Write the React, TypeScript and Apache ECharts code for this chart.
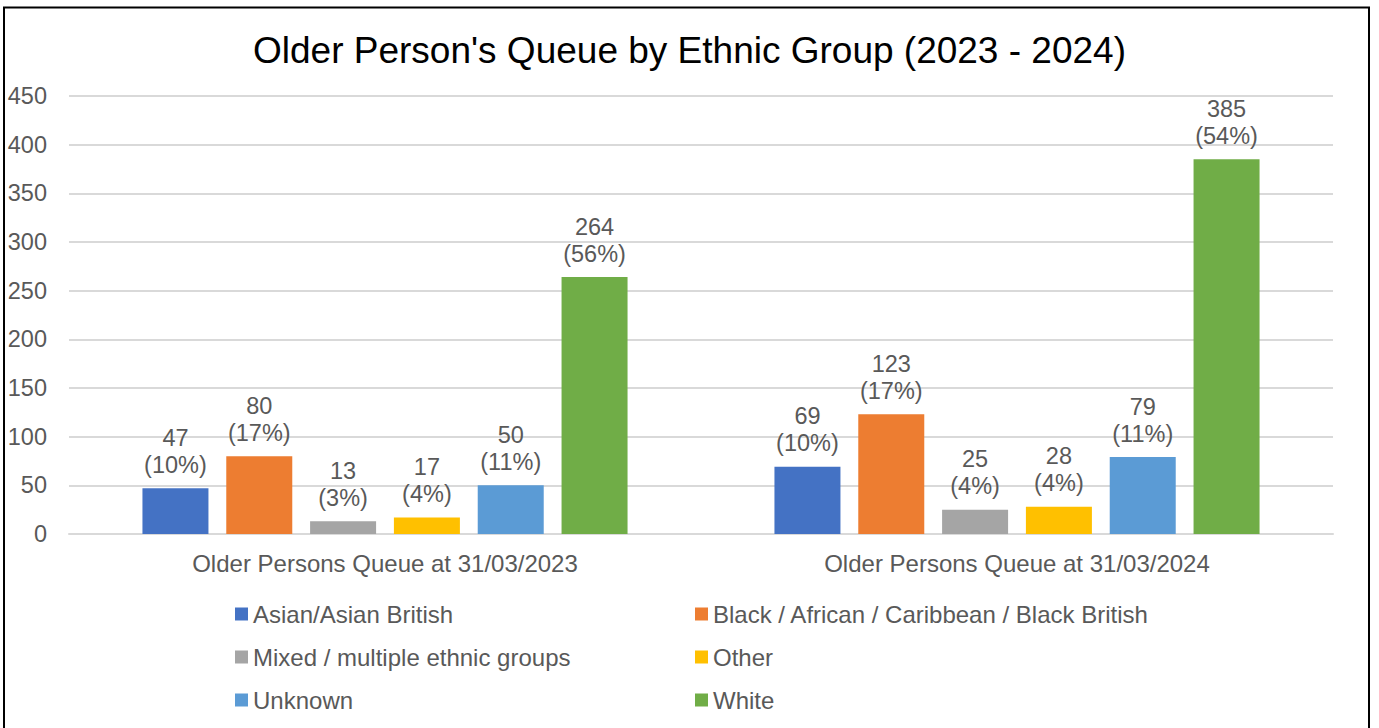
import React, { useEffect, useRef } from "react";
import * as echarts from "echarts";

const categories = ["Older Persons Queue at 31/03/2023", "Older Persons Queue at 31/03/2024"];
const seriesNames = [
  "Asian/Asian British",
  "Black / African / Caribbean / Black British",
  "Mixed / multiple ethnic groups",
  "Other",
  "Unknown",
  "White",
];
const asian = [47, 69];
const black = [80, 123];
const mixed = [13, 25];
const other = [17, 28];
const unknown = [50, 79];
const white = [264, 385];
const asianPct = [10, 10];
const blackPct = [17, 17];
const mixedPct = [3, 4];
const otherPct = [4, 4];
const unknownPct = [11, 11];
const whitePct = [56, 54];
const colors = ["#4472C4", "#ED7D31", "#A5A5A5", "#FFC000", "#5B9BD5", "#70AD47"];
const yTicks = { min: 0, max: 450, interval: 50 };

export default function App() {
  const ref = useRef<HTMLDivElement>(null);
  useEffect(() => {
    if (!ref.current) return;
    const chart = echarts.init(ref.current, null, { renderer: "svg" });
    const values = [asian, black, mixed, other, unknown, white];
    const pcts = [asianPct, blackPct, mixedPct, otherPct, unknownPct, whitePct];
    const font = "'Liberation Sans', Arial, sans-serif";
    const series = seriesNames.map((name, i) => ({
      name,
      type: "bar",
      data: values[i],
      barWidth: 66,
      barGap: "27%",
      itemStyle: { color: colors[i] },
      label: {
        show: true,
        position: "top",
        distance: 10,
        color: "#595959",
        fontSize: 23.5,
        lineHeight: 27,
        fontFamily: font,
        formatter: (p: any) => `${p.value}\n(${pcts[i][p.dataIndex]}%)`,
      },
    }));
    const legendCommon = {
      orient: "vertical",
      itemWidth: 13,
      itemHeight: 13,
      itemGap: 19,
      icon: "rect",
      padding: 0,
      textStyle: { color: "#595959", fontSize: 24, fontFamily: font },
      selectedMode: false,
    };
    chart.setOption({
      animation: false,
      backgroundColor: "#ffffff",
      title: {
        text: "Older Person's Queue by Ethnic Group (2023 - 2024)",
        left: "center",
        top: 27,
        textStyle: { color: "#000000", fontSize: 37, fontWeight: "normal", fontFamily: font },
      },
      grid: { left: 69, right: 46, top: 96, bottom: 194, containLabel: false },
      xAxis: {
        type: "category",
        data: categories,
        axisLine: { lineStyle: { color: "#D9D9D9", width: 2 } },
        axisTick: { show: false },
        axisLabel: { color: "#595959", fontSize: 24, fontFamily: font, margin: 17 },
      },
      yAxis: {
        type: "value",
        min: yTicks.min,
        max: yTicks.max,
        interval: yTicks.interval,
        axisLine: { show: false },
        axisTick: { show: false },
        splitLine: { lineStyle: { color: "#D9D9D9", width: 2 } },
        axisLabel: { color: "#595959", fontSize: 23.5, fontFamily: font, margin: 22 },
      },
      legend: [
        { ...legendCommon, left: 235, top: 602, data: [seriesNames[0], seriesNames[2], seriesNames[4]] },
        { ...legendCommon, left: 695, top: 602, data: [seriesNames[1], seriesNames[3], seriesNames[5]] },
      ],
      graphic: [
        {
          type: "rect",
          shape: { x: 4, y: 7.5, width: 1365, height: 800 },
          style: { fill: "none", stroke: "#000000", lineWidth: 2 },
          silent: true,
        },
      ],
      series,
    });
    return () => chart.dispose();
  }, []);
  return (
    <div
      ref={ref}
      style={{ position: "fixed", left: 0, top: 0, width: 1379, height: 728, background: "#fff" }}
    />
  );
}
